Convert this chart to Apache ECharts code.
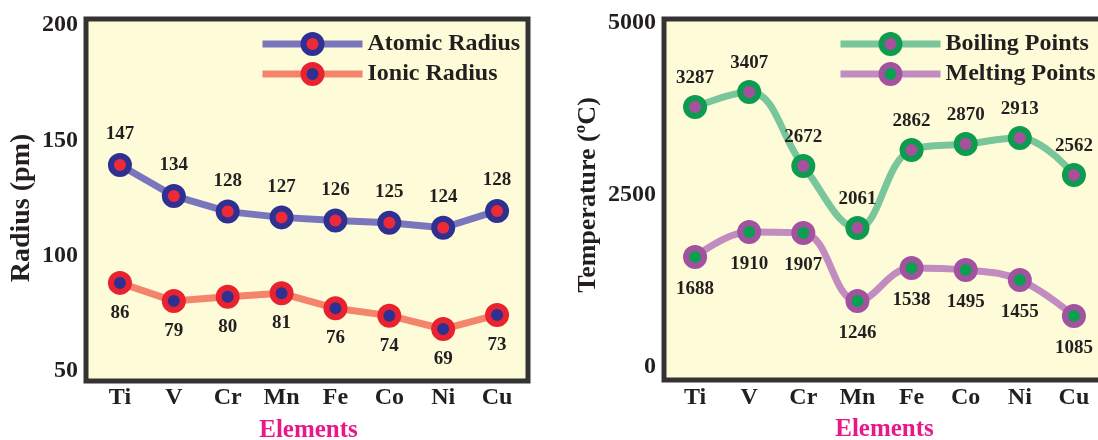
<!DOCTYPE html>
<html><head><meta charset="utf-8">
<script src="https://cdn.jsdelivr.net/npm/echarts@6/dist/echarts.min.js"></script>
<style>html,body{margin:0;padding:0;background:#fff}#c{width:1098px;height:440px}</style>
</head><body><div id="c"></div>
<script>
const elements = ['Ti','V','Cr','Mn','Fe','Co','Ni','Cu'];
const atomicRadius = [139.3,125.9,119.1,116.6,115.2,114.3,112.1,119.4];
const atomicLabels = ['147','134','128','127','126','125','124','128'];
const ionicRadius = [88.2,80.3,82.2,83.7,77.2,74.0,68.2,74.3];
const ionicLabels = ['86','79','80','81','76','74','69','73'];
const boilingPoints = [3779,3997,2922,2020,3154,3241,3329,2791];
const boilingLabels = ['3287','3407','2672','2061','2862','2870','2913','2562'];
const meltingPoints = [1599,1962,1948,959,1439,1410,1265,741];
const meltingLabels = ['1688','1910','1907','1246','1538','1495','1455','1085'];
const radiusTicks = {min:50, max:200, interval:50};
const tempTicks = {min:0, max:5000, interval:2500};

const FONT = '"Liberation Serif","Times New Roman",serif';
const INK = '#231f20';
const BG = '#fefbd8';

function series(name, data, labels, xi, yi, lineColor, border, fill, pos, dist, smooth){
  return {
    name, type:'line', xAxisIndex:xi, yAxisIndex:yi, data,
    smooth: smooth, symbol:'circle', symbolSize:18,
    lineStyle:{color:lineColor, width:7},
    itemStyle:{color:fill, borderColor:border, borderWidth:6},
    label:{show:true, position:pos, distance:dist, fontFamily:FONT, fontWeight:'bold', fontSize:19, color:INK,
      formatter:p=>labels[p.dataIndex]},
    emphasis:{disabled:true}, z:3
  };
}
function catAxis(gi, nameGap, margin){
  return {type:'category', gridIndex:gi, data:elements, boundaryGap:true,
    axisLine:{show:false}, axisTick:{show:false}, splitLine:{show:false},
    axisLabel:{fontFamily:FONT, fontWeight:'bold', fontSize:24, color:INK, margin:margin},
    name:'Elements', nameLocation:'middle', nameGap:nameGap,
    nameTextStyle:{fontFamily:FONT, fontWeight:'bold', fontSize:25, color:'#e8178a'}};
}
function valAxis(gi, t, name, nameSize, nameGap, margin, pad){
  return {type:'value', gridIndex:gi, min:t.min, max:t.max, interval:t.interval,
    axisLine:{show:false}, axisTick:{show:false}, splitLine:{show:false},
    axisLabel:{fontFamily:FONT, fontWeight:'bold', fontSize:24, color:INK, margin:margin,
      formatter:v=>String(v)},
    name:name, nameLocation:'middle', nameGap:nameGap,
    nameTextStyle:{fontFamily:FONT, fontWeight:'bold', fontSize:nameSize, color:INK, padding:pad}};
}
function legend(left, names){
  return {orient:'vertical', left:left, top:26, itemWidth:100, itemHeight:22.5, itemGap:4,
    data:names, selectedMode:false,
    textStyle:{fontFamily:FONT, fontWeight:'bold', fontSize:24, color:INK, lineHeight:26},
    itemStyle:{borderWidth:6}, lineStyle:{width:7}};
}

const chart = echarts.init(document.getElementById('c'), null, {renderer:'canvas'});
chart.setOption({
  animation:false,
  backgroundColor:'#ffffff',
  grid:[
    {left:86, top:19, width:442, height:362, show:true, backgroundColor:BG, borderColor:'#333333', borderWidth:5, z:0, outerBoundsMode:'none', containLabel:false},
    {left:93, top:25, width:431, height:346, outerBoundsMode:'none', containLabel:false},
    {left:664, top:19, width:500, height:361, show:true, backgroundColor:BG, borderColor:'#333333', borderWidth:5, z:0, outerBoundsMode:'none', containLabel:false},
    {left:668, top:23, width:433, height:344, outerBoundsMode:'none', containLabel:false}
  ],
  xAxis:[
    {type:'value', gridIndex:0, show:false},
    catAxis(1, 47, 15),
    {type:'value', gridIndex:2, show:false},
    catAxis(3, 50, 19)
  ],
  yAxis:[
    {type:'value', gridIndex:0, show:false},
    valAxis(1, radiusTicks, 'Radius (pm)', 28, 57, 15, [0,20,0,0]),
    {type:'value', gridIndex:2, show:false},
    valAxis(3, tempTicks, 'Temperature (ºC)', 26, 67, 12, [0,0,0,0])
  ],
  legend:[
    legend(254, ['Atomic Radius','Ionic Radius']),
    legend(832, ['Boiling Points','Melting Points'])
  ],
  series:[
    series('Atomic Radius', atomicRadius, atomicLabels, 1, 1, '#7a76bd', '#2e3192', '#ee2a3a', 'top', 9, false),
    series('Ionic Radius', ionicRadius, ionicLabels, 1, 1, '#f4846b', '#e8232f', '#2e3192', 'bottom', 8.5, false),
    series('Boiling Points', boilingPoints, boilingLabels, 3, 3, '#79c69a', '#0c9b4f', '#a8509e', 'top', 7.5, 0.4),
    series('Melting Points', meltingPoints, meltingLabels, 3, 3, '#c28cc0', '#a2529e', '#0ba04f', 'bottom', 10.5, 0.4)
  ]
});
</script>
</body></html>
